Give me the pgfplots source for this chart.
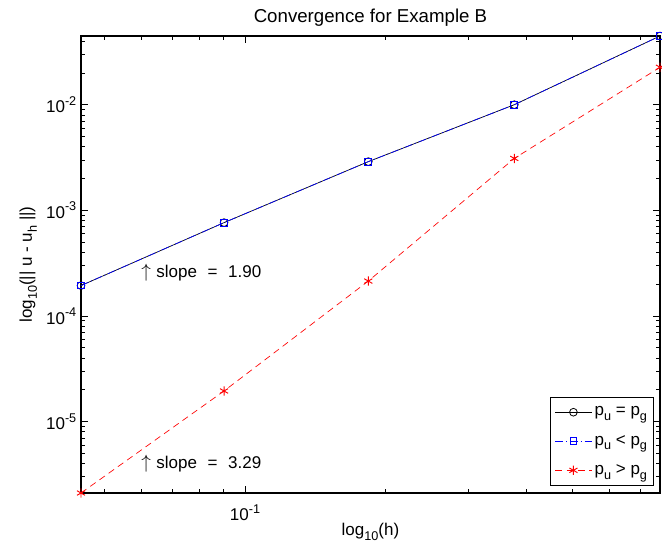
\documentclass[border=0pt]{standalone}
\usepackage{fontspec}
\setmainfont{Liberation Sans}
\usepackage{pgfplots}
\pgfplotsset{compat=1.18}
\newcommand\sub[1]{\raisebox{-0.55ex}{\fontsize{9.5}{10}\selectfont #1}}
\newcommand\sups[1]{\raisebox{0.85ex}{\fontsize{9.5}{10}\selectfont #1}}
\begin{document}
\begin{tikzpicture}
\begin{axis}[
  name=ax,
  scale only axis,
  width=434.25pt, height=342.75pt,
  xmode=log, ymode=log,
  xmin=0.04463, xmax=0.7702,
  ymin=2.11e-6, ymax=0.0447,
  xtick={0.1}, xticklabels={10\sups{-1}},
  ytick={1e-5,1e-4,1e-3,1e-2},
  yticklabels={10\sups{-5},10\sups{-4},10\sups{-3},10\sups{-2}},
  minor xtick={0.05,0.06,0.07,0.08,0.09,0.2,0.3,0.4,0.5,0.6,0.7},
  minor ytick={3e-6,4e-6,5e-6,6e-6,7e-6,8e-6,9e-6,
               2e-5,3e-5,4e-5,5e-5,6e-5,7e-5,8e-5,9e-5,
               2e-4,3e-4,4e-4,5e-4,6e-4,7e-4,8e-4,9e-4,
               2e-3,3e-3,4e-3,5e-3,6e-3,7e-3,8e-3,9e-3,
               2e-2,3e-2,4e-2},
  major tick length=5pt, minor tick length=3pt,
  tick style={black, line width=0.6pt},
  axis line style={line width=0.8pt},
  tick label style={font=\fontsize{12.75}{15}\selectfont},
  xticklabel style={yshift=-5pt},
  label style={font=\fontsize{12.75}{15}\selectfont},
  title style={font=\fontsize{14}{16}\selectfont, yshift=-2pt},
  title={Convergence for Example B},
  xlabel={log\sub{10}(h)},
  ylabel={log\sub{10}(|| u - u\sub{h} ||)},
  xlabel style={yshift=5pt},
  ylabel style={yshift=0pt},
  clip=false,
  legend cell align=left,
  legend style={at={(0.99,0.015)}, anchor=south east,
    font=\fontsize{12.75}{15}\selectfont,
    draw=black, line width=0.8pt, inner xsep=3pt, inner ysep=5pt,
    row sep=9pt},
  legend image code/.code={\draw[mark repeat=2,mark phase=2,#1]
    plot coordinates {(0cm,0cm)(0.48cm,0cm)(0.96cm,0cm)};},
]
\addplot[black, line width=0.5pt, mark=o, mark size=2.9pt,
  mark options={solid, line width=0.6pt}]
  coordinates {(0.04463,1.94e-4)(0.0902,7.65e-4)(0.1834,2.89e-3)(0.3761,1.0e-2)(0.7702,0.0447)};
\addlegendentry{p\sub{u} = p\sub{g}}
\addplot[blue, line width=0.5pt, dash pattern=on 6pt off 2pt on 1pt off 2pt,
  mark=square, mark size=2.5pt, mark options={solid, line width=0.7pt}]
  coordinates {(0.04463,1.94e-4)(0.0902,7.65e-4)(0.1834,2.89e-3)(0.3761,1.0e-2)(0.7702,0.0447)};
\addlegendentry{p\sub{u} < p\sub{g}}
\addplot[red, line width=0.5pt, dash pattern=on 5pt off 3.5pt,
  mark=asterisk, mark size=3.5pt, mark options={solid, line width=0.7pt}]
  coordinates {(0.04463,2.11e-6)(0.0902,1.95e-5)(0.1834,2.14e-4)(0.3761,3.1e-3)(0.7702,0.0226)};
\addlegendentry{p\sub{u} > p\sub{g}}
\node[anchor=west, inner sep=0pt, font=\fontsize{12.75}{15}\selectfont]
  at (axis cs:0.0600,2.55e-4) {{\fontsize{15}{15}\selectfont$\uparrow$}\hspace{4pt}slope\hspace{8pt}=\hspace{8pt}1.90};
\node[anchor=west, inner sep=0pt, font=\fontsize{12.75}{15}\selectfont]
  at (axis cs:0.0600,3.98e-6) {{\fontsize{15}{15}\selectfont$\uparrow$}\hspace{4pt}slope\hspace{8pt}=\hspace{8pt}3.29};
\coordinate (bbsw) at (rel axis cs:-0.13990,-0.11379);
\coordinate (bbne) at (rel axis cs:1.00345,1.07877);
\end{axis}
\pgfresetboundingbox
\path[use as bounding box] (bbsw) rectangle (bbne);
\end{tikzpicture}
\end{document}
